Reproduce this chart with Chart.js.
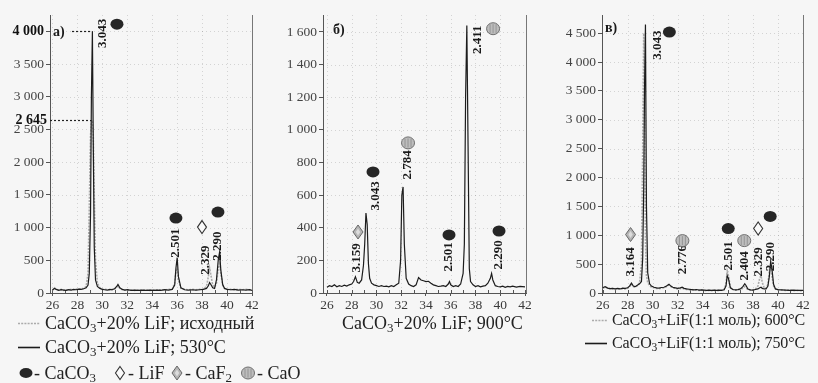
<!DOCTYPE html>
<html><head><meta charset="utf-8">
<script src="https://cdn.jsdelivr.net/npm/chart.js@4"></script>
<style>
body{margin:0;background:#f6f6f6;width:818px;height:383px;overflow:hidden;position:relative;font-family:"Liberation Serif",serif;color:#222}
canvas{position:absolute}
.t{position:absolute;font-size:18px;white-space:nowrap;line-height:20px}
.t2{position:absolute;font-size:16px;white-space:nowrap;line-height:20px;letter-spacing:-0.1px}
sub{font-size:72%;vertical-align:-3px;line-height:0}
svg{position:absolute;left:0;top:0}
</style></head><body>
<canvas id="ca" width="262" height="312" style="left:0;top:0"></canvas>
<canvas id="cb" width="270" height="312" style="left:270px;top:0"></canvas>
<canvas id="cc" width="278" height="312" style="left:540px;top:0"></canvas>
<svg id="leg" width="818" height="383"></svg>
<div class="t" style="left:45px;top:313px">CaCO<sub>3</sub>+20% LiF; исходный</div>
<div class="t" style="left:45px;top:337px">CaCO<sub>3</sub>+20% LiF; 530°C</div>
<div class="t" style="left:342px;top:313px">CaCO<sub>3</sub>+20% LiF; 900°C</div>
<div class="t2" style="left:612px;top:310px">CaCO<sub>3</sub>+LiF(1:1 моль); 600°C</div>
<div class="t2" style="left:612px;top:333px">CaCO<sub>3</sub>+LiF(1:1 моль); 750°C</div>
<div class="t" style="left:34px;top:363px">- CaCO<sub>3</sub></div>
<div class="t" style="left:128px;top:363px">- LiF</div>
<div class="t" style="left:185px;top:363px">- CaF<sub>2</sub></div>
<div class="t" style="left:257px;top:363px">- CaO</div>
<script>
// ---------- DATA ----------
const xTicks = [26, 28, 30, 32, 34, 36, 38, 40, 42];
const yTicksA = [0, 500, 1000, 1500, 2000, 2500, 3000, 3500, 4000];
const yTicksB = [0, 200, 400, 600, 800, 1000, 1200, 1400, 1600];
const yTicksC = [0, 500, 1000, 1500, 2000, 2500, 3000, 3500, 4000, 4500];

// Panel а) 2θ
const aX = [
 26.0,26.15,26.3,26.5,26.7,26.9,27.1,27.3,27.5,27.7,
 27.9,28.1,28.3,28.5,28.7,28.85,28.95,29.05,29.12,29.2,
 29.27,29.35,29.45,29.6,29.8,30.0,30.2,30.4,30.6,30.8,
 31.0,31.15,31.25,31.4,31.6,31.8,32.0,32.3,32.6,32.9,
 33.2,33.5,33.8,34.1,34.4,34.7,35.0,35.3,35.6,35.8,
 35.9,36.0,36.1,36.3,36.6,36.9,37.2,37.5,37.8,38.1,
 38.35,38.5,38.6,38.7,38.85,39.0,39.15,39.3,39.4,39.5,
 39.65,39.8,40.0,40.3,40.6,40.9,41.2,41.5,41.8,42.0];
// CaCO3+20% LiF; исходный
const aInitial = [
 40,80,60,45,55,40,50,45,55,50,
 60,55,65,70,100,300,1300,2400,2645,2600,
 2400,1500,500,150,80,60,55,50,45,55,
 60,90,110,70,50,45,40,45,40,45,
 40,45,40,50,45,50,45,55,60,150,
 330,380,200,70,55,50,55,50,55,60,
 100,250,380,280,120,90,150,380,450,300,
 120,70,60,55,50,55,50,55,50,45];
// CaCO3+20% LiF; 530°C
const a530 = [
 45,70,55,40,50,45,40,50,45,55,
 50,60,55,65,80,120,300,1200,3000,4000,
 2300,700,200,100,70,55,50,45,55,50,
 70,100,130,80,55,45,50,40,45,40,
 45,40,45,40,45,40,50,45,55,120,
 380,540,250,80,50,45,50,45,50,55,
 70,110,160,130,80,70,200,520,620,350,
 130,70,55,50,55,45,50,45,50,40];

// Panel б) 2θ
const bX = [
 26.0,26.2,26.4,26.6,26.8,27.0,27.2,27.4,27.6,27.8,
 28.0,28.15,28.3,28.45,28.6,28.8,28.95,29.05,29.15,29.25,
 29.35,29.45,29.6,29.8,30.0,30.2,30.4,30.6,30.8,31.0,
 31.2,31.4,31.6,31.8,31.95,32.05,32.15,32.25,32.4,32.6,
 32.8,33.0,33.2,33.4,33.6,33.8,34.0,34.2,34.4,34.6,
 34.8,35.0,35.2,35.4,35.6,35.8,35.9,36.0,36.2,36.4,
 36.6,36.8,37.0,37.1,37.2,37.3,37.4,37.5,37.6,37.8,
 38.0,38.2,38.4,38.6,38.8,39.0,39.2,39.3,39.4,39.6,
 39.8,40.0,40.2,40.4,40.6,40.8,41.0,41.3,41.6,42.0];
// CaCO3+20% LiF; 900°C
const b900 = [
 35,45,40,50,38,45,40,48,42,50,
 55,70,100,65,60,80,170,300,490,420,
 180,90,60,50,45,40,45,40,42,38,
 45,40,50,60,200,600,650,300,90,55,
 45,40,50,95,80,75,70,72,60,50,
 45,40,42,45,40,55,70,50,40,45,
 40,55,120,300,1200,1640,900,150,70,50,
 40,45,38,42,45,60,90,120,80,45,
 40,38,42,35,40,38,42,36,40,38];

// Panel в) 2θ
const cX = [
 26.0,26.2,26.4,26.6,26.8,27.0,27.2,27.4,27.6,27.8,
 28.0,28.15,28.3,28.45,28.6,28.8,28.95,29.1,29.2,29.28,
 29.35,29.42,29.5,29.6,29.75,29.9,30.1,30.3,30.5,30.7,
 30.9,31.1,31.3,31.45,31.6,31.8,32.0,32.2,32.35,32.5,
 32.7,32.9,33.1,33.3,33.5,33.7,33.9,34.1,34.3,34.5,
 34.7,34.9,35.1,35.3,35.5,35.7,35.85,35.95,36.05,36.2,
 36.4,36.6,36.8,37.0,37.2,37.35,37.45,37.6,37.8,38.0,
 38.2,38.4,38.55,38.65,38.75,38.9,39.05,39.2,39.32,39.42,
 39.52,39.65,39.8,40.0,40.3,40.6,40.9,41.2,41.5,41.8,
 42.0];
// CaCO3+LiF(1:1 моль); 600°C
const c600 = [
 80,100,90,70,75,60,70,65,75,70,
 80,110,160,110,100,130,180,500,2500,4500,
 3000,900,300,180,130,100,90,80,75,85,
 90,110,140,110,90,80,70,75,85,70,
 60,55,60,50,55,45,50,45,40,45,
 40,45,40,45,50,60,150,380,300,100,
 60,50,55,60,80,110,90,60,50,55,
 70,120,260,300,180,90,80,150,400,480,
 300,120,70,55,50,45,50,40,45,40,
 40];
// CaCO3+LiF(1:1 моль); 750°C
const c750 = [
 90,110,85,75,80,70,80,70,85,80,
 90,120,170,120,110,140,160,200,600,1800,
 3600,4650,1500,350,160,120,100,90,85,95,
 100,120,150,120,100,90,80,90,100,80,
 70,65,60,55,60,50,55,50,45,50,
 45,50,45,50,45,55,120,300,250,90,
 60,55,60,70,110,160,130,70,55,50,
 60,70,90,100,80,70,70,120,300,550,
 420,150,70,60,55,50,45,50,45,45,
 45];

// ---------- ANNOTATIONS (d-spacings & phase markers) ----------
const annotations = {
 ca: {
  panel: {text:'а)', x:53, y:32},
  labels: [{t:'3.043',x:30.05,y:3970},{t:'2.501',x:35.9,y:764},{t:'2.329',x:38.3,y:504},{t:'2.290',x:39.27,y:718}],
  markers: [{k:'caco3',x:31.17,y:4110},{k:'caco3',x:35.9,y:1146},{k:'lif',x:37.99,y:1008},{k:'caco3',x:39.27,y:1238}],
  refs: [{y:4000,x:29.2,from:72},{y:2645,x:29.12,from:0,label:'2 645'}]
 },
 cb: {
  panel: {text:'б)', x:63, y:30},
  labels: [{t:'2.411',x:38.2,y:1552},{t:'2.784',x:32.55,y:785},{t:'3.043',x:29.96,y:595},{t:'3.159',x:28.43,y:215},{t:'2.501',x:35.86,y:221},{t:'2.290',x:39.9,y:233}],
  markers: [{k:'cao',x:39.42,y:1620},{k:'cao',x:32.55,y:920},{k:'caco3',x:29.72,y:742},{k:'caf2',x:28.51,y:374},{k:'caco3',x:35.86,y:356},{k:'caco3',x:39.9,y:380}],
  refs: []
 },
 cc: {
  panel: {text:'в)', x:65, y:28},
  labels: [{t:'3.043',x:30.38,y:4291},{t:'3.164',x:28.23,y:541},{t:'2.776',x:32.37,y:576},{t:'2.501',x:36.03,y:645},{t:'2.404',x:37.31,y:471},{t:'2.329',x:38.42,y:541},{t:'2.290',x:39.38,y:628}],
  markers: [{k:'caco3',x:31.33,y:4518},{k:'caf2',x:28.23,y:1012},{k:'cao',x:32.37,y:907},{k:'caco3',x:36.03,y:1116},{k:'cao',x:37.31,y:907},{k:'lif',x:38.42,y:1116},{k:'caco3',x:39.38,y:1326}],
  refs: []
 }
};

// ---------- DRAWING ----------
const FONT = '"Liberation Serif", serif';
function fmt(v){ return v >= 1000 ? Math.floor(v/1000) + ' ' + String(v % 1000).padStart(3,'0') : String(v); }

function drawMarker(ctx, k, px, py){
  ctx.save();
  ctx.setLineDash([]);
  if (k === 'caco3'){
    ctx.fillStyle = '#262626';
    ctx.beginPath(); ctx.ellipse(px, py, 6.5, 5.5, 0, 0, Math.PI*2); ctx.fill();
  } else if (k === 'lif'){
    ctx.strokeStyle = '#333'; ctx.lineWidth = 1.1; ctx.fillStyle = '#fafafa';
    ctx.beginPath(); ctx.moveTo(px, py-6.5); ctx.lineTo(px+4.5, py); ctx.lineTo(px, py+6.5); ctx.lineTo(px-4.5, py); ctx.closePath(); ctx.fill(); ctx.stroke();
  } else if (k === 'caf2'){
    ctx.strokeStyle = '#666'; ctx.lineWidth = 1; ctx.fillStyle = '#b4b4b4';
    ctx.beginPath(); ctx.moveTo(px, py-7); ctx.lineTo(px+5, py); ctx.lineTo(px, py+7); ctx.lineTo(px-5, py); ctx.closePath(); ctx.fill(); ctx.stroke();
    ctx.fillStyle = '#dcdcdc';
    ctx.beginPath(); ctx.moveTo(px, py-3.5); ctx.lineTo(px+2.2, py); ctx.lineTo(px, py+3.5); ctx.lineTo(px-2.2, py); ctx.closePath(); ctx.fill();
  } else if (k === 'cao'){
    ctx.fillStyle = '#bdbdbd'; ctx.strokeStyle = '#6e6e6e'; ctx.lineWidth = 1;
    ctx.beginPath(); ctx.ellipse(px, py, 6.5, 6, 0, 0, Math.PI*2); ctx.fill(); ctx.stroke();
    ctx.strokeStyle = '#8a8a8a'; ctx.lineWidth = 0.8;
    for (const dx of [-3, 0, 3]){ ctx.beginPath(); ctx.moveTo(px+dx, py-4.5); ctx.lineTo(px+dx, py+4.5); ctx.stroke(); }
  }
  ctx.restore();
}

const annoPlugin = {
  id: 'xrdAnno',
  beforeDatasetsDraw(chart){
    const {ctx, chartArea:a, scales:{x, y}} = chart;
    ctx.save();
    ctx.strokeStyle = 'rgba(0,0,0,0.14)'; ctx.lineWidth = 1; ctx.setLineDash([1,3]);
    for (const t of y.ticks){ if (t.value <= 0) continue; const py = Math.round(y.getPixelForValue(t.value)) + 0.5;
      ctx.beginPath(); ctx.moveTo(a.left, py); ctx.lineTo(a.right, py); ctx.stroke(); }
    for (const t of x.ticks){ const px = Math.round(x.getPixelForValue(t.value)) + 0.5; if (px <= a.left + 2 || px >= a.right - 2) continue;
      ctx.beginPath(); ctx.moveTo(px, a.top); ctx.lineTo(px, a.bottom); ctx.stroke(); }
    ctx.setLineDash([]);
    ctx.strokeStyle = '#777'; ctx.beginPath(); ctx.moveTo(a.right + 0.5, a.top); ctx.lineTo(a.right + 0.5, a.bottom); ctx.stroke();
    ctx.strokeStyle = '#555';
    for (let v = 26; v <= 42; v += 1){ const px = Math.round(x.getPixelForValue(v)) + 0.5;
      ctx.beginPath(); ctx.moveTo(px, a.bottom); ctx.lineTo(px, a.bottom - 3); ctx.stroke(); }
    ctx.restore();
  },
  afterDatasetsDraw(chart){
    const an = annotations[chart.canvas.id];
    const {ctx, chartArea:a, scales:{x, y}} = chart;
    ctx.save();
    for (const r of an.refs){
      const py = Math.round(y.getPixelForValue(r.y)) + 0.5;
      ctx.strokeStyle = '#222'; ctx.lineWidth = 1.2; ctx.setLineDash([2,2]);
      ctx.beginPath(); ctx.moveTo(Math.max(a.left, r.from), py); ctx.lineTo(x.getPixelForValue(r.x), py); ctx.stroke();
      ctx.setLineDash([]);
      if (r.label){
        ctx.fillStyle = '#111'; ctx.font = 'bold 14px ' + FONT; ctx.textAlign = 'right'; ctx.textBaseline = 'middle';
        ctx.fillText(r.label, a.left - 3, py);
      }
    }
    ctx.fillStyle = '#1a1a1a'; ctx.font = 'bold 14px ' + FONT; ctx.textAlign = 'left'; ctx.textBaseline = 'middle';
    ctx.fillText(an.panel.text, an.panel.x, an.panel.y);
    ctx.font = 'bold 13px ' + FONT; ctx.textAlign = 'center'; ctx.textBaseline = 'middle'; ctx.fillStyle = '#1a1a1a';
    for (const l of an.labels){
      const px = x.getPixelForValue(l.x), py = y.getPixelForValue(l.y);
      ctx.save(); ctx.translate(px, py); ctx.rotate(-Math.PI/2); ctx.fillText(l.t, 0, 0); ctx.restore();
    }
    for (const m of an.markers) drawMarker(ctx, m.k, x.getPixelForValue(m.x), y.getPixelForValue(m.y));
    ctx.restore();
  }
};

function pts(xs, ys){ return xs.map((v, i) => ({x: v, y: ys[i]})); }

function makeChart(id, datasets, xMin, xMax, yMax, yTicks, yW, padR, boldTicks){
  const tickFont = {family: FONT, size: 13.5};
  return new Chart(document.getElementById(id), {
    type: 'line',
    data: {datasets},
    plugins: [annoPlugin],
    options: {
      responsive: false, animation: false, events: [],
      layout: {padding: {top: 15, right: padR, left: 0, bottom: 0}},
      plugins: {legend: {display: false}, tooltip: {enabled: false}},
      elements: {point: {radius: 0}, line: {tension: 0}},
      scales: {
        x: {type: 'linear', min: xMin, max: xMax,
            afterBuildTicks: s => { s.ticks = xTicks.map(v => ({value: v})); },
            afterFit: s => { s.height = 19; },
            grid: {drawOnChartArea: false, tickLength: 3, color: '#555'},
            border: {color: '#555'},
            ticks: {font: tickFont, color: '#3a3a3a', padding: 1, maxRotation: 0, autoSkip: false}},
        y: {min: 0, max: yMax,
            afterBuildTicks: s => { s.ticks = yTicks.map(v => ({value: v})); },
            afterFit: s => { s.width = yW; },
            grid: {drawOnChartArea: false, tickLength: 4, color: '#555'},
            border: {color: '#555'},
            ticks: {color: ctx => boldTicks.includes(ctx.tick && ctx.tick.value) ? '#111' : '#444',
                    font: ctx => ({family: FONT, size: boldTicks.includes(ctx.tick && ctx.tick.value) ? 14 : 13.5, weight: boldTicks.includes(ctx.tick && ctx.tick.value) ? 'bold' : 'normal'}),
                    padding: 2, autoSkip: false, callback: v => fmt(v)}}
      }
    }
  });
}

const blackStyle = {borderColor: '#1c1c1c', borderWidth: 1.2, fill: false};
const grayStyle = {borderColor: '#ababab', borderWidth: 1.6, borderDash: [2, 1.2], fill: false};

makeChart('ca', [
  Object.assign({label: 'CaCO3+20% LiF; 530°C', data: pts(aX, a530)}, blackStyle),
  Object.assign({label: 'CaCO3+20% LiF; исходный', data: pts(aX, aInitial)}, grayStyle)
], 25.8, 42, 4250, yTicksA, 50, 10, [4000]);

makeChart('cb', [
  Object.assign({label: 'CaCO3+20% LiF; 900°C', data: pts(bX, b900)}, blackStyle)
], 25.68, 42.08, 1704, yTicksB, 53, 14, []);

makeChart('cc', [
  Object.assign({label: 'CaCO3+LiF(1:1 моль); 750°C', data: pts(cX, c750)}, blackStyle),
  Object.assign({label: 'CaCO3+LiF(1:1 моль); 600°C', data: pts(cX, c600)}, grayStyle)
], 25.95, 42, 4814, yTicksC, 62, 15, []);

const svg = document.getElementById('leg');
svg.innerHTML = `
 <line x1="18" y1="323.5" x2="40" y2="323.5" stroke="#ababab" stroke-width="1.6" stroke-dasharray="2 1.2"/>
 <line x1="18" y1="347.5" x2="40" y2="347.5" stroke="#1c1c1c" stroke-width="1.6"/>
 <line x1="592" y1="320.5" x2="607" y2="320.5" stroke="#ababab" stroke-width="1.6" stroke-dasharray="2 1.2"/>
 <line x1="585" y1="343.5" x2="607" y2="343.5" stroke="#1c1c1c" stroke-width="1.6"/>
 <ellipse cx="26" cy="373" rx="6.5" ry="5" fill="#262626"/>
 <path d="M120 366.5 L124.5 373 L120 379.5 L115.5 373 Z" fill="#fafafa" stroke="#333" stroke-width="1.1"/>
 <path d="M177 366 L182 373 L177 380 L172 373 Z" fill="#b4b4b4" stroke="#666"/>
 <path d="M177 369.5 L179.2 373 L177 376.5 L174.8 373 Z" fill="#dcdcdc"/>
 <ellipse cx="248" cy="373" rx="6.5" ry="6" fill="#bdbdbd" stroke="#6e6e6e"/>
 <line x1="245" y1="368.5" x2="245" y2="377.5" stroke="#8a8a8a" stroke-width="0.8"/>
 <line x1="248" y1="368.5" x2="248" y2="377.5" stroke="#8a8a8a" stroke-width="0.8"/>
 <line x1="251" y1="368.5" x2="251" y2="377.5" stroke="#8a8a8a" stroke-width="0.8"/>`;
</script>
</body></html>
